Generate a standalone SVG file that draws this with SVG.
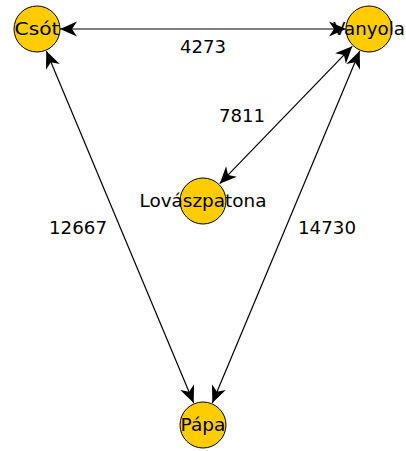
<svg xmlns="http://www.w3.org/2000/svg" width="406" height="451" viewBox="0 0 406 451">
  <style>
    .node circle { fill: #ffcc00; stroke: #000; stroke-width: 1; }
    .node text { font-family: "DejaVu Sans", sans-serif; font-size: 17px; text-anchor: middle; fill: #000; }
    .edge { stroke: #000; stroke-width: 1.2; fill: none; marker-start: url(#arrow); marker-end: url(#arrow); }
    .label { font-family: "DejaVu Sans", sans-serif; font-size: 17px; text-anchor: middle; fill: #000; }
  </style>
  <defs>
    <marker id="arrow" viewBox="-18 -9 19 18" refX="0" refY="0" markerWidth="19" markerHeight="18" markerUnits="userSpaceOnUse" orient="auto-start-reverse">
      <path d="M0,0 L-17,-7.5 L-12,0 L-17,7.5 Z" fill="#000"/>
    </marker>
  </defs>
  <rect width="406" height="451" fill="#fff"/>

  <g id="nodes">
    <g id="node-csot" class="node">
      <circle cx="37" cy="29" r="23"/>
      <text x="37" y="35" textLength="45" lengthAdjust="spacingAndGlyphs">Csót</text>
    </g>
    <g id="node-vanyola" class="node">
      <circle cx="369" cy="29" r="23"/>
      <text x="369" y="35" textLength="72" lengthAdjust="spacingAndGlyphs">Vanyola</text>
    </g>
    <g id="node-lovaszpatona" class="node">
      <circle cx="203" cy="201" r="23"/>
      <text x="203" y="207" textLength="127" lengthAdjust="spacingAndGlyphs">Lovászpatona</text>
    </g>
    <g id="node-papa" class="node">
      <circle cx="203" cy="425" r="23"/>
      <text x="203" y="431" textLength="45" lengthAdjust="spacingAndGlyphs">Pápa</text>
    </g>
  </g>

  <g id="edges">
    <line class="edge" x1="60" y1="29" x2="346" y2="29"/>
    <line class="edge" x1="352.3" y1="46.3" x2="219.7" y2="183.7"/>
    <line class="edge" x1="46.3" y1="51.1" x2="193.7" y2="402.9"/>
    <line class="edge" x1="359.7" y1="51.1" x2="212.3" y2="402.9"/>
    <text class="label" x="203" y="53" textLength="46" lengthAdjust="spacingAndGlyphs">4273</text>
    <text class="label" x="242" y="122" textLength="46" lengthAdjust="spacingAndGlyphs">7811</text>
    <text class="label" x="78" y="234" textLength="58" lengthAdjust="spacingAndGlyphs">12667</text>
    <text class="label" x="327" y="234" textLength="58" lengthAdjust="spacingAndGlyphs">14730</text>
  </g>
</svg>
